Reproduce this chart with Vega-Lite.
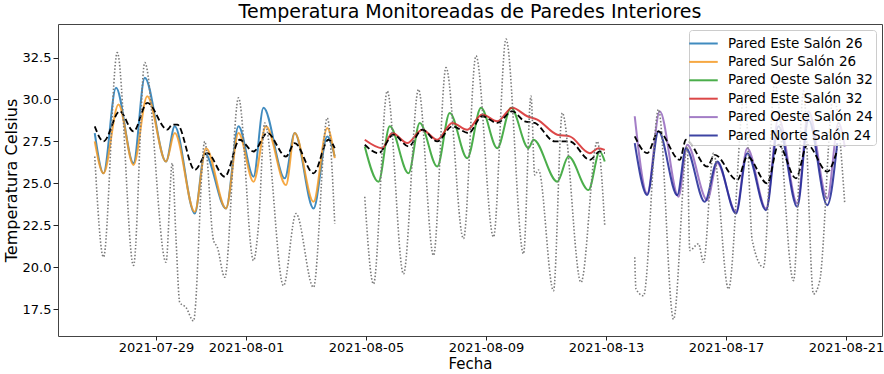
{
  "$schema": "https://vega.github.io/schema/vega-lite/v6.json",
  "width": 824,
  "height": 312,
  "autosize": "none",
  "padding": {"left": 58, "top": 24, "right": 2, "bottom": 38},
  "background": "white",
  "title": {"text": "Temperatura Monitoreadas de Paredes Interiores", "fontSize": 19, "font": "DejaVu Sans", "fontWeight": "normal", "color": "black", "anchor": "middle", "offset": 2},
  "config": {
    "font": "DejaVu Sans",
    "view": {"stroke": "#444", "strokeWidth": 1},
    "axis": {"grid": false, "domain": false, "tickColor": "#222", "tickSize": 4, "labelColor": "black", "labelFontSize": 13, "labelFont": "DejaVu Sans", "titleFont": "DejaVu Sans", "titleFontSize": 16, "titleFontWeight": "normal", "titleColor": "black", "labelPadding": 2}
  },
  "data": {"values": [
    {"serie": "Pared Este Salón 26", "tipo": "pared", "fecha": "2021-07-26T23:00", "temp": 28.0},
    {"serie": "Pared Este Salón 26", "tipo": "pared", "fecha": "2021-07-27T06:00", "temp": 25.6},
    {"serie": "Pared Este Salón 26", "tipo": "pared", "fecha": "2021-07-27T16:00", "temp": 30.7},
    {"serie": "Pared Este Salón 26", "tipo": "pared", "fecha": "2021-07-28T06:00", "temp": 26.2},
    {"serie": "Pared Este Salón 26", "tipo": "pared", "fecha": "2021-07-28T15:00", "temp": 31.3},
    {"serie": "Pared Este Salón 26", "tipo": "pared", "fecha": "2021-07-29T08:00", "temp": 26.3},
    {"serie": "Pared Este Salón 26", "tipo": "pared", "fecha": "2021-07-29T15:00", "temp": 28.4},
    {"serie": "Pared Este Salón 26", "tipo": "pared", "fecha": "2021-07-30T07:00", "temp": 23.2},
    {"serie": "Pared Este Salón 26", "tipo": "pared", "fecha": "2021-07-30T15:00", "temp": 26.8},
    {"serie": "Pared Este Salón 26", "tipo": "pared", "fecha": "2021-07-31T08:00", "temp": 23.5},
    {"serie": "Pared Este Salón 26", "tipo": "pared", "fecha": "2021-07-31T18:00", "temp": 28.4},
    {"serie": "Pared Este Salón 26", "tipo": "pared", "fecha": "2021-08-01T06:00", "temp": 25.4},
    {"serie": "Pared Este Salón 26", "tipo": "pared", "fecha": "2021-08-01T14:00", "temp": 29.5},
    {"serie": "Pared Este Salón 26", "tipo": "pared", "fecha": "2021-08-02T07:00", "temp": 25.3},
    {"serie": "Pared Este Salón 26", "tipo": "pared", "fecha": "2021-08-02T15:00", "temp": 28.0},
    {"serie": "Pared Este Salón 26", "tipo": "pared", "fecha": "2021-08-03T06:00", "temp": 23.5},
    {"serie": "Pared Este Salón 26", "tipo": "pared", "fecha": "2021-08-03T17:00", "temp": 27.8},
    {"serie": "Pared Este Salón 26", "tipo": "pared", "fecha": "2021-08-03T23:00", "temp": 26.6},

    {"serie": "Pared Sur Salón 26", "tipo": "pared", "fecha": "2021-07-26T23:00", "temp": 27.5},
    {"serie": "Pared Sur Salón 26", "tipo": "pared", "fecha": "2021-07-27T06:00", "temp": 25.6},
    {"serie": "Pared Sur Salón 26", "tipo": "pared", "fecha": "2021-07-27T18:00", "temp": 29.7},
    {"serie": "Pared Sur Salón 26", "tipo": "pared", "fecha": "2021-07-28T06:00", "temp": 26.1},
    {"serie": "Pared Sur Salón 26", "tipo": "pared", "fecha": "2021-07-28T17:00", "temp": 30.2},
    {"serie": "Pared Sur Salón 26", "tipo": "pared", "fecha": "2021-07-29T08:00", "temp": 26.3},
    {"serie": "Pared Sur Salón 26", "tipo": "pared", "fecha": "2021-07-29T15:00", "temp": 28.0},
    {"serie": "Pared Sur Salón 26", "tipo": "pared", "fecha": "2021-07-30T07:00", "temp": 23.3},
    {"serie": "Pared Sur Salón 26", "tipo": "pared", "fecha": "2021-07-30T16:00", "temp": 27.1},
    {"serie": "Pared Sur Salón 26", "tipo": "pared", "fecha": "2021-07-31T08:00", "temp": 23.5},
    {"serie": "Pared Sur Salón 26", "tipo": "pared", "fecha": "2021-07-31T18:00", "temp": 28.0},
    {"serie": "Pared Sur Salón 26", "tipo": "pared", "fecha": "2021-08-01T06:00", "temp": 25.1},
    {"serie": "Pared Sur Salón 26", "tipo": "pared", "fecha": "2021-08-01T16:00", "temp": 28.4},
    {"serie": "Pared Sur Salón 26", "tipo": "pared", "fecha": "2021-08-02T08:00", "temp": 24.9},
    {"serie": "Pared Sur Salón 26", "tipo": "pared", "fecha": "2021-08-02T15:00", "temp": 28.0},
    {"serie": "Pared Sur Salón 26", "tipo": "pared", "fecha": "2021-08-03T06:00", "temp": 23.9},
    {"serie": "Pared Sur Salón 26", "tipo": "pared", "fecha": "2021-08-03T17:00", "temp": 28.3},
    {"serie": "Pared Sur Salón 26", "tipo": "pared", "fecha": "2021-08-03T23:00", "temp": 26.5},

    {"serie": "Pared Oeste Salón 32", "tipo": "pared", "fecha": "2021-08-04T23:00", "temp": 27.2},
    {"serie": "Pared Oeste Salón 32", "tipo": "pared", "fecha": "2021-08-05T10:00", "temp": 25.1},
    {"serie": "Pared Oeste Salón 32", "tipo": "pared", "fecha": "2021-08-05T19:00", "temp": 28.4},
    {"serie": "Pared Oeste Salón 32", "tipo": "pared", "fecha": "2021-08-06T10:00", "temp": 25.6},
    {"serie": "Pared Oeste Salón 32", "tipo": "pared", "fecha": "2021-08-06T19:00", "temp": 28.6},
    {"serie": "Pared Oeste Salón 32", "tipo": "pared", "fecha": "2021-08-07T09:00", "temp": 26.0},
    {"serie": "Pared Oeste Salón 32", "tipo": "pared", "fecha": "2021-08-07T19:00", "temp": 29.2},
    {"serie": "Pared Oeste Salón 32", "tipo": "pared", "fecha": "2021-08-08T09:00", "temp": 26.5},
    {"serie": "Pared Oeste Salón 32", "tipo": "pared", "fecha": "2021-08-08T20:00", "temp": 29.5},
    {"serie": "Pared Oeste Salón 32", "tipo": "pared", "fecha": "2021-08-09T09:00", "temp": 27.1},
    {"serie": "Pared Oeste Salón 32", "tipo": "pared", "fecha": "2021-08-09T20:00", "temp": 29.5},
    {"serie": "Pared Oeste Salón 32", "tipo": "pared", "fecha": "2021-08-10T10:00", "temp": 27.1},
    {"serie": "Pared Oeste Salón 32", "tipo": "pared", "fecha": "2021-08-10T14:00", "temp": 27.6},
    {"serie": "Pared Oeste Salón 32", "tipo": "pared", "fecha": "2021-08-11T09:00", "temp": 25.1},
    {"serie": "Pared Oeste Salón 32", "tipo": "pared", "fecha": "2021-08-11T18:00", "temp": 26.6},
    {"serie": "Pared Oeste Salón 32", "tipo": "pared", "fecha": "2021-08-12T10:00", "temp": 24.6},
    {"serie": "Pared Oeste Salón 32", "tipo": "pared", "fecha": "2021-08-12T19:00", "temp": 26.9},
    {"serie": "Pared Oeste Salón 32", "tipo": "pared", "fecha": "2021-08-12T23:00", "temp": 26.3},

    {"serie": "Pared Este Salón 32", "tipo": "pared", "fecha": "2021-08-04T23:00", "temp": 27.6},
    {"serie": "Pared Este Salón 32", "tipo": "pared", "fecha": "2021-08-05T13:00", "temp": 27.1},
    {"serie": "Pared Este Salón 32", "tipo": "pared", "fecha": "2021-08-05T21:00", "temp": 28.0},
    {"serie": "Pared Este Salón 32", "tipo": "pared", "fecha": "2021-08-06T09:00", "temp": 27.4},
    {"serie": "Pared Este Salón 32", "tipo": "pared", "fecha": "2021-08-06T21:00", "temp": 28.2},
    {"serie": "Pared Este Salón 32", "tipo": "pared", "fecha": "2021-08-07T09:00", "temp": 27.6},
    {"serie": "Pared Este Salón 32", "tipo": "pared", "fecha": "2021-08-07T21:00", "temp": 28.6},
    {"serie": "Pared Este Salón 32", "tipo": "pared", "fecha": "2021-08-08T09:00", "temp": 28.2},
    {"serie": "Pared Este Salón 32", "tipo": "pared", "fecha": "2021-08-08T21:00", "temp": 29.1},
    {"serie": "Pared Este Salón 32", "tipo": "pared", "fecha": "2021-08-09T09:00", "temp": 28.7},
    {"serie": "Pared Este Salón 32", "tipo": "pared", "fecha": "2021-08-09T21:00", "temp": 29.5},
    {"serie": "Pared Este Salón 32", "tipo": "pared", "fecha": "2021-08-10T09:00", "temp": 29.0},
    {"serie": "Pared Este Salón 32", "tipo": "pared", "fecha": "2021-08-10T17:00", "temp": 28.8},
    {"serie": "Pared Este Salón 32", "tipo": "pared", "fecha": "2021-08-11T09:00", "temp": 27.9},
    {"serie": "Pared Este Salón 32", "tipo": "pared", "fecha": "2021-08-11T19:00", "temp": 27.8},
    {"serie": "Pared Este Salón 32", "tipo": "pared", "fecha": "2021-08-12T11:00", "temp": 26.8},
    {"serie": "Pared Este Salón 32", "tipo": "pared", "fecha": "2021-08-12T18:00", "temp": 27.1},
    {"serie": "Pared Este Salón 32", "tipo": "pared", "fecha": "2021-08-12T23:00", "temp": 27.0},

    {"serie": "Pared Oeste Salón 24", "tipo": "pared", "fecha": "2021-08-13T23:00", "temp": 29.0},
    {"serie": "Pared Oeste Salón 24", "tipo": "pared", "fecha": "2021-08-14T09:00", "temp": 24.4},
    {"serie": "Pared Oeste Salón 24", "tipo": "pared", "fecha": "2021-08-14T19:00", "temp": 29.3},
    {"serie": "Pared Oeste Salón 24", "tipo": "pared", "fecha": "2021-08-15T10:00", "temp": 24.2},
    {"serie": "Pared Oeste Salón 24", "tipo": "pared", "fecha": "2021-08-15T17:00", "temp": 27.3},
    {"serie": "Pared Oeste Salón 24", "tipo": "pared", "fecha": "2021-08-16T09:00", "temp": 24.0},
    {"serie": "Pared Oeste Salón 24", "tipo": "pared", "fecha": "2021-08-16T17:00", "temp": 26.2},
    {"serie": "Pared Oeste Salón 24", "tipo": "pared", "fecha": "2021-08-17T08:00", "temp": 23.3},
    {"serie": "Pared Oeste Salón 24", "tipo": "pared", "fecha": "2021-08-17T17:00", "temp": 27.1},
    {"serie": "Pared Oeste Salón 24", "tipo": "pared", "fecha": "2021-08-18T08:00", "temp": 23.5},
    {"serie": "Pared Oeste Salón 24", "tipo": "pared", "fecha": "2021-08-18T18:00", "temp": 28.9},
    {"serie": "Pared Oeste Salón 24", "tipo": "pared", "fecha": "2021-08-19T09:00", "temp": 23.8},
    {"serie": "Pared Oeste Salón 24", "tipo": "pared", "fecha": "2021-08-19T18:00", "temp": 29.3},
    {"serie": "Pared Oeste Salón 24", "tipo": "pared", "fecha": "2021-08-20T09:00", "temp": 24.1},
    {"serie": "Pared Oeste Salón 24", "tipo": "pared", "fecha": "2021-08-20T18:00", "temp": 28.6},
    {"serie": "Pared Oeste Salón 24", "tipo": "pared", "fecha": "2021-08-20T23:00", "temp": 27.2},

    {"serie": "Pared Norte Salón 24", "tipo": "pared", "fecha": "2021-08-13T23:00", "temp": 27.4},
    {"serie": "Pared Norte Salón 24", "tipo": "pared", "fecha": "2021-08-14T09:00", "temp": 24.3},
    {"serie": "Pared Norte Salón 24", "tipo": "pared", "fecha": "2021-08-14T18:00", "temp": 28.1},
    {"serie": "Pared Norte Salón 24", "tipo": "pared", "fecha": "2021-08-15T09:00", "temp": 24.3},
    {"serie": "Pared Norte Salón 24", "tipo": "pared", "fecha": "2021-08-15T16:00", "temp": 27.1},
    {"serie": "Pared Norte Salón 24", "tipo": "pared", "fecha": "2021-08-16T07:00", "temp": 23.9},
    {"serie": "Pared Norte Salón 24", "tipo": "pared", "fecha": "2021-08-16T17:00", "temp": 26.3},
    {"serie": "Pared Norte Salón 24", "tipo": "pared", "fecha": "2021-08-17T08:00", "temp": 23.2},
    {"serie": "Pared Norte Salón 24", "tipo": "pared", "fecha": "2021-08-17T17:00", "temp": 26.8},
    {"serie": "Pared Norte Salón 24", "tipo": "pared", "fecha": "2021-08-18T08:00", "temp": 23.4},
    {"serie": "Pared Norte Salón 24", "tipo": "pared", "fecha": "2021-08-18T18:00", "temp": 28.4},
    {"serie": "Pared Norte Salón 24", "tipo": "pared", "fecha": "2021-08-19T09:00", "temp": 23.6},
    {"serie": "Pared Norte Salón 24", "tipo": "pared", "fecha": "2021-08-19T18:00", "temp": 28.8},
    {"serie": "Pared Norte Salón 24", "tipo": "pared", "fecha": "2021-08-20T09:00", "temp": 23.7},
    {"serie": "Pared Norte Salón 24", "tipo": "pared", "fecha": "2021-08-20T17:00", "temp": 27.4},

    {"serie": "Aire Salón 26", "tipo": "aire", "fecha": "2021-07-26T23:00", "temp": 28.4},
    {"serie": "Aire Salón 26", "tipo": "aire", "fecha": "2021-07-27T06:00", "temp": 27.5},
    {"serie": "Aire Salón 26", "tipo": "aire", "fecha": "2021-07-27T19:00", "temp": 29.3},
    {"serie": "Aire Salón 26", "tipo": "aire", "fecha": "2021-07-28T06:00", "temp": 28.1},
    {"serie": "Aire Salón 26", "tipo": "aire", "fecha": "2021-07-28T17:00", "temp": 29.8},
    {"serie": "Aire Salón 26", "tipo": "aire", "fecha": "2021-07-29T09:00", "temp": 28.2},
    {"serie": "Aire Salón 26", "tipo": "aire", "fecha": "2021-07-29T13:00", "temp": 28.5},
    {"serie": "Aire Salón 26", "tipo": "aire", "fecha": "2021-07-29T17:00", "temp": 28.5},
    {"serie": "Aire Salón 26", "tipo": "aire", "fecha": "2021-07-30T07:00", "temp": 25.8},
    {"serie": "Aire Salón 26", "tipo": "aire", "fecha": "2021-07-30T17:00", "temp": 26.8},
    {"serie": "Aire Salón 26", "tipo": "aire", "fecha": "2021-07-31T07:00", "temp": 25.4},
    {"serie": "Aire Salón 26", "tipo": "aire", "fecha": "2021-07-31T19:00", "temp": 27.6},
    {"serie": "Aire Salón 26", "tipo": "aire", "fecha": "2021-08-01T06:00", "temp": 26.9},
    {"serie": "Aire Salón 26", "tipo": "aire", "fecha": "2021-08-01T17:00", "temp": 28.0},
    {"serie": "Aire Salón 26", "tipo": "aire", "fecha": "2021-08-02T08:00", "temp": 26.6},
    {"serie": "Aire Salón 26", "tipo": "aire", "fecha": "2021-08-02T15:00", "temp": 27.4},
    {"serie": "Aire Salón 26", "tipo": "aire", "fecha": "2021-08-03T06:00", "temp": 25.6},
    {"serie": "Aire Salón 26", "tipo": "aire", "fecha": "2021-08-03T18:00", "temp": 27.6},
    {"serie": "Aire Salón 26", "tipo": "aire", "fecha": "2021-08-03T23:00", "temp": 27.1},

    {"serie": "Aire Salón 32", "tipo": "aire", "fecha": "2021-08-04T23:00", "temp": 27.3},
    {"serie": "Aire Salón 32", "tipo": "aire", "fecha": "2021-08-05T10:00", "temp": 26.8},
    {"serie": "Aire Salón 32", "tipo": "aire", "fecha": "2021-08-05T22:00", "temp": 27.9},
    {"serie": "Aire Salón 32", "tipo": "aire", "fecha": "2021-08-06T10:00", "temp": 27.2},
    {"serie": "Aire Salón 32", "tipo": "aire", "fecha": "2021-08-06T21:00", "temp": 28.2},
    {"serie": "Aire Salón 32", "tipo": "aire", "fecha": "2021-08-07T09:00", "temp": 27.5},
    {"serie": "Aire Salón 32", "tipo": "aire", "fecha": "2021-08-07T21:00", "temp": 28.4},
    {"serie": "Aire Salón 32", "tipo": "aire", "fecha": "2021-08-08T10:00", "temp": 28.0},
    {"serie": "Aire Salón 32", "tipo": "aire", "fecha": "2021-08-08T21:00", "temp": 29.0},
    {"serie": "Aire Salón 32", "tipo": "aire", "fecha": "2021-08-09T09:00", "temp": 28.6},
    {"serie": "Aire Salón 32", "tipo": "aire", "fecha": "2021-08-09T21:00", "temp": 29.3},
    {"serie": "Aire Salón 32", "tipo": "aire", "fecha": "2021-08-10T07:00", "temp": 28.7},
    {"serie": "Aire Salón 32", "tipo": "aire", "fecha": "2021-08-10T15:00", "temp": 28.6},
    {"serie": "Aire Salón 32", "tipo": "aire", "fecha": "2021-08-11T07:00", "temp": 27.5},
    {"serie": "Aire Salón 32", "tipo": "aire", "fecha": "2021-08-11T19:00", "temp": 27.5},
    {"serie": "Aire Salón 32", "tipo": "aire", "fecha": "2021-08-12T11:00", "temp": 26.4},
    {"serie": "Aire Salón 32", "tipo": "aire", "fecha": "2021-08-12T19:00", "temp": 26.9},
    {"serie": "Aire Salón 32", "tipo": "aire", "fecha": "2021-08-12T23:00", "temp": 26.8},

    {"serie": "Aire Salón 24", "tipo": "aire", "fecha": "2021-08-13T23:00", "temp": 27.8},
    {"serie": "Aire Salón 24", "tipo": "aire", "fecha": "2021-08-14T09:00", "temp": 26.8},
    {"serie": "Aire Salón 24", "tipo": "aire", "fecha": "2021-08-14T18:00", "temp": 28.1},
    {"serie": "Aire Salón 24", "tipo": "aire", "fecha": "2021-08-15T11:00", "temp": 26.4},
    {"serie": "Aire Salón 24", "tipo": "aire", "fecha": "2021-08-15T16:00", "temp": 27.6},
    {"serie": "Aire Salón 24", "tipo": "aire", "fecha": "2021-08-16T09:00", "temp": 26.0},
    {"serie": "Aire Salón 24", "tipo": "aire", "fecha": "2021-08-16T15:00", "temp": 26.7},
    {"serie": "Aire Salón 24", "tipo": "aire", "fecha": "2021-08-17T09:00", "temp": 25.2},
    {"serie": "Aire Salón 24", "tipo": "aire", "fecha": "2021-08-17T17:00", "temp": 26.6},
    {"serie": "Aire Salón 24", "tipo": "aire", "fecha": "2021-08-18T09:00", "temp": 25.0},
    {"serie": "Aire Salón 24", "tipo": "aire", "fecha": "2021-08-18T18:00", "temp": 27.3},
    {"serie": "Aire Salón 24", "tipo": "aire", "fecha": "2021-08-19T08:00", "temp": 25.3},
    {"serie": "Aire Salón 24", "tipo": "aire", "fecha": "2021-08-19T17:00", "temp": 27.3},
    {"serie": "Aire Salón 24", "tipo": "aire", "fecha": "2021-08-20T09:00", "temp": 25.7},
    {"serie": "Aire Salón 24", "tipo": "aire", "fecha": "2021-08-20T17:00", "temp": 27.0},

    {"serie": "Exterior 1", "tipo": "exterior", "fecha": "2021-07-26T23:00", "temp": 26.6},
    {"serie": "Exterior 1", "tipo": "exterior", "fecha": "2021-07-27T06:00", "temp": 20.6},
    {"serie": "Exterior 1", "tipo": "exterior", "fecha": "2021-07-27T17:00", "temp": 32.8},
    {"serie": "Exterior 1", "tipo": "exterior", "fecha": "2021-07-28T06:00", "temp": 20.1},
    {"serie": "Exterior 1", "tipo": "exterior", "fecha": "2021-07-28T15:00", "temp": 32.2},
    {"serie": "Exterior 1", "tipo": "exterior", "fecha": "2021-07-29T08:00", "temp": 20.3},
    {"serie": "Exterior 1", "tipo": "exterior", "fecha": "2021-07-29T13:00", "temp": 26.2},
    {"serie": "Exterior 1", "tipo": "exterior", "fecha": "2021-07-29T16:00", "temp": 21.7},
    {"serie": "Exterior 1", "tipo": "exterior", "fecha": "2021-07-29T19:00", "temp": 17.9},
    {"serie": "Exterior 1", "tipo": "exterior", "fecha": "2021-07-30T00:00", "temp": 17.6},
    {"serie": "Exterior 1", "tipo": "exterior", "fecha": "2021-07-30T06:00", "temp": 16.8},
    {"serie": "Exterior 1", "tipo": "exterior", "fecha": "2021-07-30T15:00", "temp": 27.5},
    {"serie": "Exterior 1", "tipo": "exterior", "fecha": "2021-07-30T22:00", "temp": 21.6},
    {"serie": "Exterior 1", "tipo": "exterior", "fecha": "2021-07-31T01:00", "temp": 21.2},
    {"serie": "Exterior 1", "tipo": "exterior", "fecha": "2021-07-31T07:00", "temp": 19.4},
    {"serie": "Exterior 1", "tipo": "exterior", "fecha": "2021-07-31T18:00", "temp": 30.1},
    {"serie": "Exterior 1", "tipo": "exterior", "fecha": "2021-08-01T06:00", "temp": 20.4},
    {"serie": "Exterior 1", "tipo": "exterior", "fecha": "2021-08-01T10:00", "temp": 22.5},
    {"serie": "Exterior 1", "tipo": "exterior", "fecha": "2021-08-01T15:00", "temp": 28.6},
    {"serie": "Exterior 1", "tipo": "exterior", "fecha": "2021-08-02T06:00", "temp": 18.9},
    {"serie": "Exterior 1", "tipo": "exterior", "fecha": "2021-08-02T16:00", "temp": 23.2},
    {"serie": "Exterior 1", "tipo": "exterior", "fecha": "2021-08-03T06:00", "temp": 18.8},
    {"serie": "Exterior 1", "tipo": "exterior", "fecha": "2021-08-03T17:00", "temp": 28.9},
    {"serie": "Exterior 1", "tipo": "exterior", "fecha": "2021-08-03T23:00", "temp": 22.6},

    {"serie": "Exterior 2", "tipo": "exterior", "fecha": "2021-08-04T23:00", "temp": 24.2},
    {"serie": "Exterior 2", "tipo": "exterior", "fecha": "2021-08-05T06:00", "temp": 19.0},
    {"serie": "Exterior 2", "tipo": "exterior", "fecha": "2021-08-05T17:00", "temp": 30.5},
    {"serie": "Exterior 2", "tipo": "exterior", "fecha": "2021-08-06T06:00", "temp": 19.6},
    {"serie": "Exterior 2", "tipo": "exterior", "fecha": "2021-08-06T18:00", "temp": 30.6},
    {"serie": "Exterior 2", "tipo": "exterior", "fecha": "2021-08-07T06:00", "temp": 20.7},
    {"serie": "Exterior 2", "tipo": "exterior", "fecha": "2021-08-07T16:00", "temp": 31.9},
    {"serie": "Exterior 2", "tipo": "exterior", "fecha": "2021-08-08T06:00", "temp": 21.7},
    {"serie": "Exterior 2", "tipo": "exterior", "fecha": "2021-08-08T16:00", "temp": 32.6},
    {"serie": "Exterior 2", "tipo": "exterior", "fecha": "2021-08-09T06:00", "temp": 21.8},
    {"serie": "Exterior 2", "tipo": "exterior", "fecha": "2021-08-09T16:00", "temp": 33.6},
    {"serie": "Exterior 2", "tipo": "exterior", "fecha": "2021-08-10T06:00", "temp": 20.8},
    {"serie": "Exterior 2", "tipo": "exterior", "fecha": "2021-08-10T12:00", "temp": 30.2},
    {"serie": "Exterior 2", "tipo": "exterior", "fecha": "2021-08-10T15:00", "temp": 25.5},
    {"serie": "Exterior 2", "tipo": "exterior", "fecha": "2021-08-10T18:00", "temp": 25.8},
    {"serie": "Exterior 2", "tipo": "exterior", "fecha": "2021-08-11T06:00", "temp": 18.6},
    {"serie": "Exterior 2", "tipo": "exterior", "fecha": "2021-08-11T13:00", "temp": 29.2},
    {"serie": "Exterior 2", "tipo": "exterior", "fecha": "2021-08-12T04:00", "temp": 19.1},
    {"serie": "Exterior 2", "tipo": "exterior", "fecha": "2021-08-12T17:00", "temp": 27.5},
    {"serie": "Exterior 2", "tipo": "exterior", "fecha": "2021-08-12T23:00", "temp": 22.5},

    {"serie": "Exterior 3", "tipo": "exterior", "fecha": "2021-08-13T23:00", "temp": 20.6},
    {"serie": "Exterior 3", "tipo": "exterior", "fecha": "2021-08-14T00:00", "temp": 18.7},
    {"serie": "Exterior 3", "tipo": "exterior", "fecha": "2021-08-14T06:00", "temp": 18.3},
    {"serie": "Exterior 3", "tipo": "exterior", "fecha": "2021-08-14T18:00", "temp": 29.4},
    {"serie": "Exterior 3", "tipo": "exterior", "fecha": "2021-08-15T06:00", "temp": 16.9},
    {"serie": "Exterior 3", "tipo": "exterior", "fecha": "2021-08-15T17:00", "temp": 27.2},
    {"serie": "Exterior 3", "tipo": "exterior", "fecha": "2021-08-15T19:00", "temp": 21.0},
    {"serie": "Exterior 3", "tipo": "exterior", "fecha": "2021-08-16T02:00", "temp": 21.4},
    {"serie": "Exterior 3", "tipo": "exterior", "fecha": "2021-08-16T06:00", "temp": 20.3},
    {"serie": "Exterior 3", "tipo": "exterior", "fecha": "2021-08-16T14:00", "temp": 26.8},
    {"serie": "Exterior 3", "tipo": "exterior", "fecha": "2021-08-17T02:00", "temp": 18.7},
    {"serie": "Exterior 3", "tipo": "exterior", "fecha": "2021-08-17T15:00", "temp": 30.5},
    {"serie": "Exterior 3", "tipo": "exterior", "fecha": "2021-08-17T21:00", "temp": 21.6},
    {"serie": "Exterior 3", "tipo": "exterior", "fecha": "2021-08-18T06:00", "temp": 20.0},
    {"serie": "Exterior 3", "tipo": "exterior", "fecha": "2021-08-18T15:00", "temp": 31.0},
    {"serie": "Exterior 3", "tipo": "exterior", "fecha": "2021-08-19T06:00", "temp": 19.2},
    {"serie": "Exterior 3", "tipo": "exterior", "fecha": "2021-08-19T14:00", "temp": 30.5},
    {"serie": "Exterior 3", "tipo": "exterior", "fecha": "2021-08-19T22:00", "temp": 18.4},
    {"serie": "Exterior 3", "tipo": "exterior", "fecha": "2021-08-20T03:00", "temp": 19.2},
    {"serie": "Exterior 3", "tipo": "exterior", "fecha": "2021-08-20T14:00", "temp": 30.2},
    {"serie": "Exterior 3", "tipo": "exterior", "fecha": "2021-08-20T23:00", "temp": 23.8}
  ]},
  "encoding": {
    "x": {"field": "fecha", "type": "temporal", "title": "Fecha",
      "scale": {"domain": [{"year": 2021, "month": 7, "date": 25, "hours": 17, "minutes": 36}, {"year": 2021, "month": 8, "date": 22, "hours": 4, "minutes": 48}]},
      "axis": {"values": [{"year": 2021, "month": 7, "date": 29}, {"year": 2021, "month": 8, "date": 1}, {"year": 2021, "month": 8, "date": 5}, {"year": 2021, "month": 8, "date": 9}, {"year": 2021, "month": 8, "date": 13}, {"year": 2021, "month": 8, "date": 17}, {"year": 2021, "month": 8, "date": 21}], "format": "%Y-%m-%d", "labelAngle": 0, "labelPadding": 1, "titlePadding": 2, "titleFontSize": 15, "labelOverlap": false}},
    "y": {"field": "temp", "type": "quantitative", "title": "Temperatura Celsius",
      "scale": {"domain": [15.9, 34.5], "nice": false, "zero": false},
      "axis": {"values": [17.5, 20, 22.5, 25, 27.5, 30, 32.5], "format": ".1f", "titlePadding": 3, "tickSize": 5}}
  },
  "layer": [
    {
      "transform": [{"filter": "datum.tipo == 'pared'"}],
      "mark": {"type": "line", "strokeWidth": 2, "opacity": 0.85, "interpolate": "monotone"},
      "encoding": {
        "color": {"field": "serie", "type": "nominal",
          "scale": {"domain": ["Pared Este Salón 26", "Pared Sur Salón 26", "Pared Oeste Salón 32", "Pared Este Salón 32", "Pared Oeste Salón 24", "Pared Norte Salón 24"],
                    "range": ["#1f77b4", "#f59a23", "#2ca02c", "#d62728", "#9467bd", "#1c2494"]},
          "legend": {"title": null, "orient": "top-right", "offset": 6, "labelFontSize": 13.5, "labelFont": "DejaVu Sans", "labelColor": "black",
            "symbolType": "M-1.5,0H1.5", "symbolSize": 361, "symbolStrokeWidth": 2, "symbolOpacity": 0.85, "labelOffset": 14, "symbolOffset": 1,
            "rowPadding": 1.4, "padding": 3, "fillColor": "rgba(255,255,255,0.8)", "strokeColor": "#cccccc", "cornerRadius": 3}}
      }
    },
    {
      "transform": [{"filter": "datum.tipo == 'aire'"}],
      "mark": {"type": "line", "strokeWidth": 1.8, "color": "black", "strokeDash": [6, 3], "interpolate": "monotone"},
      "encoding": {"detail": {"field": "serie"}}
    },
    {
      "transform": [{"filter": "datum.tipo == 'exterior'"}],
      "mark": {"type": "line", "strokeWidth": 1.6, "color": "#7a7a7a", "strokeDash": [1.5, 1.9], "interpolate": "monotone"},
      "encoding": {"detail": {"field": "serie"}}
    }
  ]
}
